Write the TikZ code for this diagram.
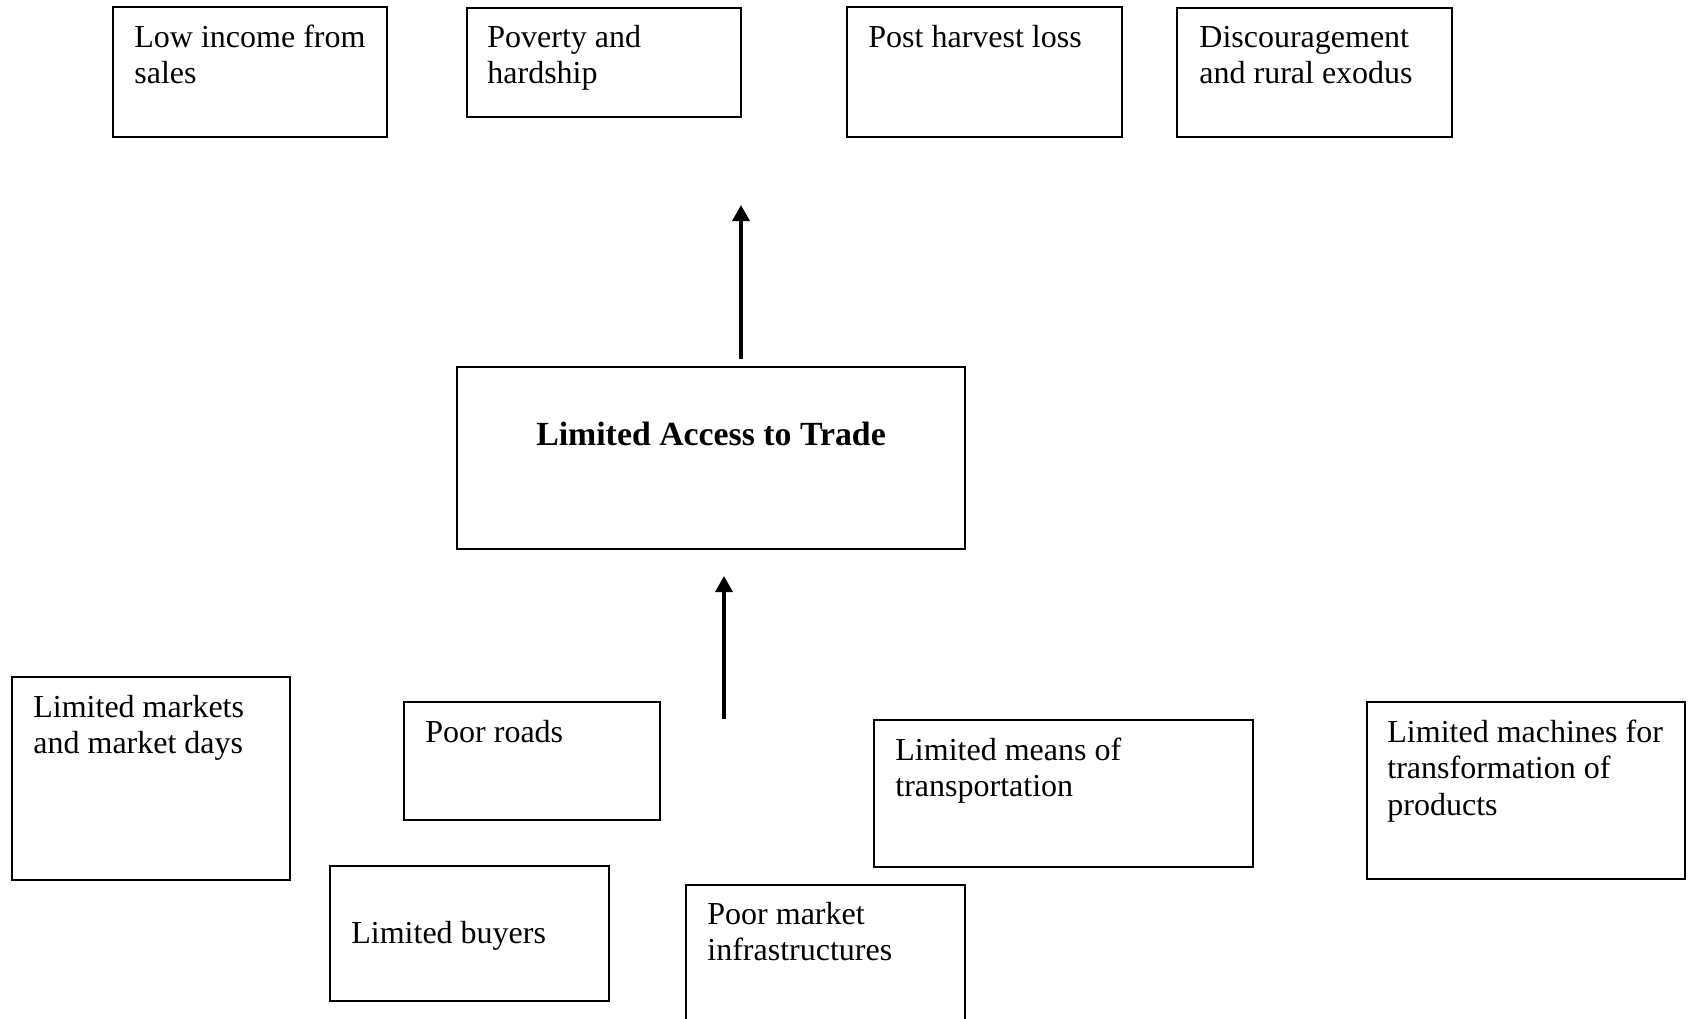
\documentclass[tikz,border=0pt]{standalone}
\usepackage{fontspec}
\setmainfont{Liberation Serif}
\usetikzlibrary{arrows.meta,fit}
% multi-line text whose baseline is that of its first line
\newcommand{\boxlines}[1]{\begin{tabular}[t]{@{}l@{}}#1\end{tabular}}
\begin{document}
\begin{tikzpicture}[x=0.5pt,y=-0.5pt,
  box/.style={draw, line width=1pt, inner sep=0pt},
  txt/.style={inner sep=0pt, anchor=base west,
    font=\fontsize{16}{18.3}\selectfont},
  headtxt/.style={inner sep=0pt, anchor=base,
    font=\fontsize{16.9}{19}\selectfont\bfseries},
  arr/.style={line width=1.6pt, -{Triangle[length=8pt,width=8.5pt]}}]
\useasboundingbox (0,0) rectangle (1692,1018);
\clip (0,0) rectangle (1692,1018);

% consequences
\node[box, fit={(113,7) (387,137)}] (low) {};
\node[box, fit={(467,8) (741,117)}] (pov) {};
\node[box, fit={(847,7) (1122,137)}] (post) {};
\node[box, fit={(1177,8) (1452,137)}] (disc) {};
\node[txt] (lowt) at (134,47) {\boxlines{Low income from\\sales}};
\node[txt] (povt) at (487,47) {\boxlines{Poverty and\\hardship}};
\node[txt] (postt) at (868,47) {Post harvest loss};
\node[txt] (disct) at (1199,47) {\boxlines{Discouragement\\and rural exodus}};

% core problem
\node[box, fit={(457,367) (965,549)}] (trade) {};
\node[headtxt] (tradet) at (711,445) {Limited Access to Trade};

% causes
\node[box, fit={(12,677) (290,880)}] (mkts) {};
\node[box, fit={(404,702) (660,820)}] (roads) {};
\node[box, fit={(330,866) (609,1001)}] (buyers) {};
\node[box, fit={(686,885) (965,1040)}] (infra) {};
\node[box, fit={(874,720) (1253,867)}] (means) {};
\node[box, fit={(1367,702) (1685,879)}] (mach) {};
\node[txt] (mktst) at (33,717) {\boxlines{Limited markets\\and market days}};
\node[txt] (roadst) at (425,742) {Poor roads};
\node[txt] (buyerst) at (351,943) {Limited buyers};
\node[txt] (infrat) at (707,924) {\boxlines{Poor market\\infrastructures}};
\node[txt] (meanst) at (895,760) {\boxlines{Limited means of\\transportation}};
\node[txt] (macht) at (1387,742) {\boxlines{Limited machines for\\transformation of\\products}};

% arrows
\coordinate (causeup) at (724,719);
\coordinate (causetip) at (724,576);
\coordinate (effectup) at (741,359);
\coordinate (effecttip) at (741,205);
\draw[arr] (causeup) -- (causetip);
\draw[arr] (effectup) -- (effecttip);
\end{tikzpicture}
\end{document}
